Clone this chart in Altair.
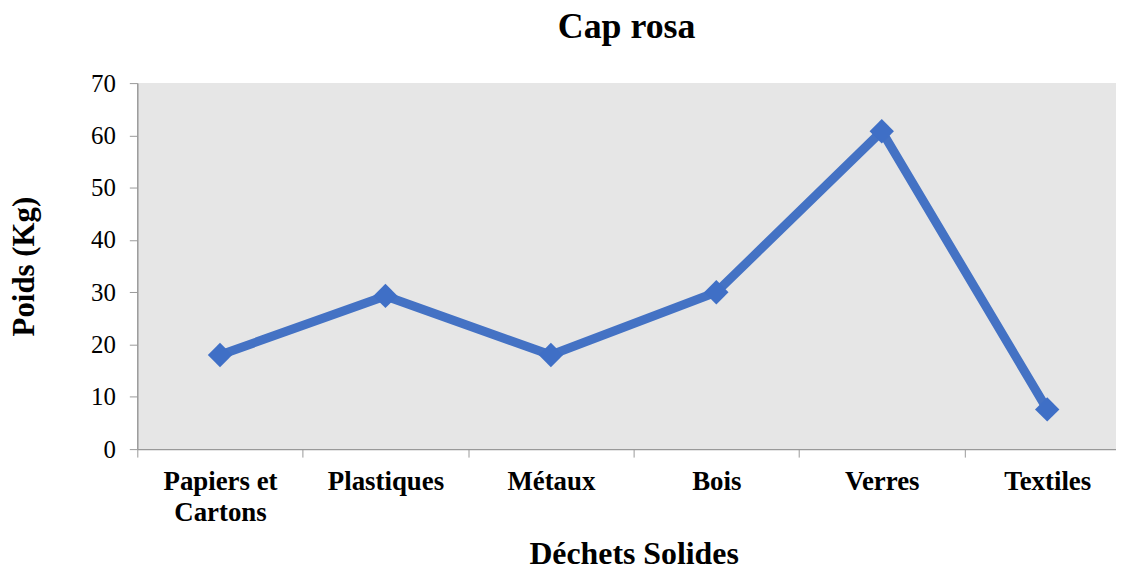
import altair as alt
import pandas as pd

categories = ["Papiers et Cartons", "Plastiques", "Métaux", "Bois", "Verres", "Textiles"]
values = [18.0, 29.3, 18.0, 30.0, 60.8, 7.6]

df = pd.DataFrame({"cat": categories, "val": values})

FONT = "Liberation Serif"

x = alt.X(
    "cat:N",
    sort=categories,
    scale=alt.Scale(paddingInner=0, paddingOuter=0, range=[0, 998]),
    axis=alt.Axis(
        title="Déchets Solides",
        titleFont=FONT, titleFontSize=32, titleFontWeight="bold", titleColor="black",
        titlePadding=13,
        labelFont=FONT, labelFontSize=27, labelFontWeight="bold", labelColor="black",
        labelAngle=0, labelPadding=12, labelLineHeight=31,
        labelExpr="datum.label == 'Papiers et Cartons' ? ['Papiers et', 'Cartons'] : datum.label",
        tickBand="extent", tickColor="#999999", tickSize=8,
        domainColor="#999999", domainWidth=1.5,
    ),
)
y = alt.Y(
    "val:Q",
    scale=alt.Scale(domain=[0, 70]),
    axis=alt.Axis(
        title="Poids (Kg)",
        titleFont=FONT, titleFontSize=31, titleFontWeight="bold", titleColor="black",
        titlePadding=50,
        labelFont=FONT, labelFontSize=25, labelColor="black", labelPadding=14,
        values=[0, 10, 20, 30, 40, 50, 60, 70],
        tickColor="#999999", tickSize=8, domainColor="#999999", domainWidth=1.5,
        grid=False,
    ),
)

base = alt.Chart(df).encode(x=x, y=y)
line = base.mark_line(color="#4472C4", strokeWidth=9)
pts = base.mark_point(shape="diamond", filled=True, size=600, color="#3F6FC6", opacity=1)

chart = (
    (line + pts)
    .properties(
        width=984,
        height=368,
        title=alt.TitleParams("Cap rosa", font=FONT, fontSize=36, fontWeight="bold", color="black", offset=25),
        autosize=alt.AutoSizeParams(type="none"),
        padding={"left": 130, "top": 74, "right": 0, "bottom": 118},
    )
    .configure_view(fill="#E6E6E6", stroke=None)
)

chart.save("out.html", embed_options={"renderer": "svg", "actions": False})
